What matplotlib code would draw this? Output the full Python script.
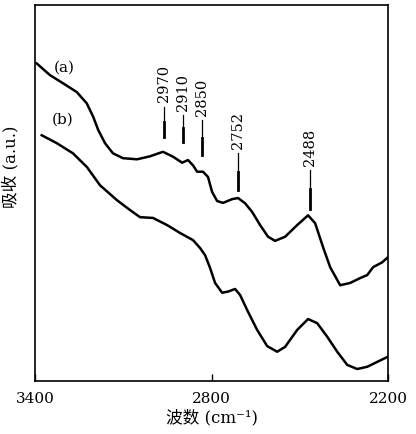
import matplotlib
matplotlib.use("Agg")
import matplotlib.pyplot as plt

# IR spectra (wavenumber, absorbance in a.u.)
wn_a = [3394, 3349, 3304, 3258, 3224, 3202, 3185, 3162, 3135, 3101, 3053, 3009,
        2965, 2931, 2900, 2880, 2863, 2849, 2829, 2812, 2798, 2781, 2761, 2730,
        2710, 2686, 2662, 2635, 2608, 2584, 2550, 2509, 2472, 2448, 2421, 2397,
        2363, 2329, 2295, 2271, 2251, 2220, 2200]
abs_a = [0.845, 0.814, 0.792, 0.769, 0.739, 0.703, 0.668, 0.633, 0.606, 0.593,
         0.590, 0.598, 0.610, 0.597, 0.581, 0.588, 0.574, 0.557, 0.557, 0.543,
         0.503, 0.479, 0.474, 0.484, 0.487, 0.473, 0.450, 0.415, 0.384, 0.373,
         0.384, 0.415, 0.441, 0.420, 0.356, 0.303, 0.255, 0.261, 0.274, 0.282,
         0.303, 0.316, 0.330]

wn_b = [3377, 3326, 3271, 3223, 3179, 3121, 3077, 3043, 2999, 2951, 2907, 2863,
        2839, 2822, 2805, 2788, 2764, 2744, 2720, 2703, 2679, 2645, 2611, 2577,
        2550, 2509, 2472, 2441, 2407, 2373, 2339, 2305, 2271, 2237, 2200]
abs_b = [0.654, 0.633, 0.606, 0.569, 0.521, 0.481, 0.455, 0.436, 0.434, 0.415,
         0.394, 0.375, 0.354, 0.335, 0.301, 0.261, 0.235, 0.238, 0.245, 0.229,
         0.189, 0.136, 0.093, 0.078, 0.091, 0.136, 0.165, 0.154, 0.118, 0.078,
         0.043, 0.032, 0.038, 0.051, 0.065]

# peak markers: label, position on the axis, top / bottom of the bar
peak_labels = ["2970", "2910", "2850", "2752", "2488"]
peak_pos = [2960, 2898, 2832, 2709, 2467]
peak_top = [0.730, 0.707, 0.694, 0.606, 0.561]
peak_bot = [0.650, 0.637, 0.601, 0.508, 0.459]

serif = ["DejaVu Serif", "Noto Sans CJK SC"]

fig = plt.figure(figsize=(4.16, 4.34), dpi=100)
ax = fig.add_axes([0.084, 0.122, 0.849, 0.866])

ax.plot(wn_a, abs_a, color="black", lw=1.8, solid_joinstyle="round")
ax.plot(wn_b, abs_b, color="black", lw=1.8, solid_joinstyle="round")

for lab, x, top, bot in zip(peak_labels, peak_pos, peak_top, peak_bot):
    mid = (top + bot) / 2
    ax.plot([x, x], [top, mid], color="black", lw=0.9)
    ax.plot([x, x], [mid, bot], color="black", lw=2.0)
    ax.text(x, top + 0.012, lab, rotation=90, ha="center", va="bottom",
            fontsize=10.5, family=serif)

ax.text(3300, 0.835, "(a)", fontsize=11, family=serif, ha="center", va="center")
ax.text(3305, 0.695, "(b)", fontsize=11, family=serif, ha="center", va="center")

ax.set_xlim(3400, 2200)
ax.set_ylim(0, 1)
ax.set_xticks([3400, 2800, 2200])
ax.set_xticklabels(["3400", "2800", "2200"], family=serif, fontsize=11)
ax.set_yticks([])
ax.tick_params(axis="x", direction="in", length=5, width=1, pad=8)
for s in ax.spines.values():
    s.set_linewidth(1.2)

ax.set_xlabel("波数 (cm⁻¹)", family=serif, fontsize=12, labelpad=2)
ax.set_ylabel("吸收 (a.u.)", family=serif, fontsize=12)
ax.yaxis.set_label_coords(-0.045, 0.57)

fig.savefig("out.png", dpi=100)
